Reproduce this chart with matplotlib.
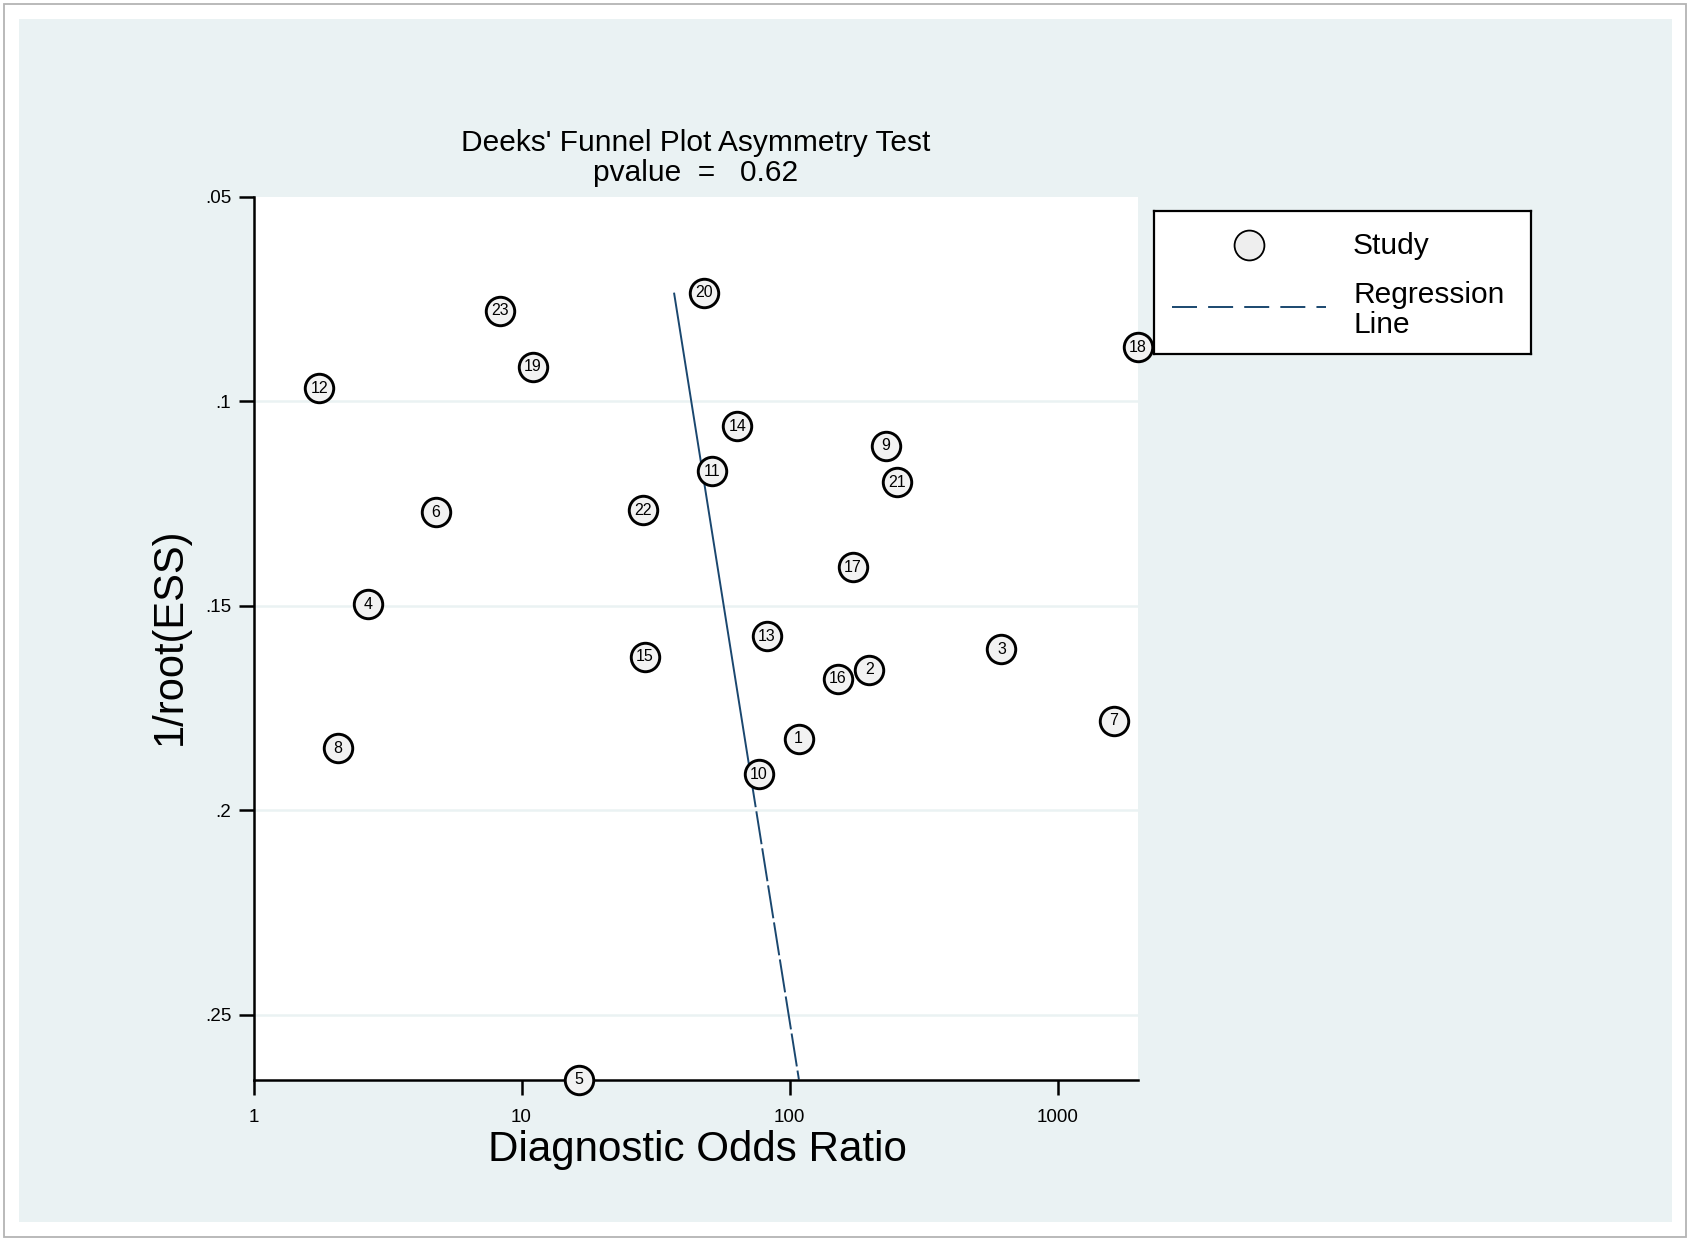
import matplotlib
matplotlib.use('Agg')
import matplotlib.pyplot as plt
from matplotlib.patches import Rectangle
from matplotlib.lines import Line2D
import numpy as np

plt.rcParams['font.family'] = ['Liberation Sans', 'DejaVu Sans']
plt.rcParams['lines.scale_dashes'] = False

# ---------------- data ----------------
study = [str(i) for i in range(1, 24)]
dor = [108, 198, 617, 2.67, 16.4, 4.78, 1617, 2.06, 229, 76.9, 51.2, 1.76,
       82.0, 63.9, 28.8, 151, 172, 1985, 11.0, 47.9, 251, 28.5, 8.33]
inv_root_ess = [0.1825, 0.1657, 0.1607, 0.1496, 0.2658, 0.1272, 0.1781, 0.1849,
                0.1109, 0.1912, 0.1172, 0.0969, 0.1575, 0.1061, 0.1625, 0.1678,
                0.1406, 0.0869, 0.0916, 0.0735, 0.1198, 0.1267, 0.0779]
reg_intercept = 1.3907   # log10(DOR) at 1/root(ESS) = 0
reg_slope = 2.4226       # change in log10(DOR) per unit 1/root(ESS)
y_ticks = [0.05, 0.10, 0.15, 0.20, 0.25]
y_tick_labels = ['.05', '.1', '.15', '.2', '.25']
x_ticks = [1, 10, 100, 1000]
x_tick_labels = ['1', '10', '100', '1000']
title_lines = ["Deeks' Funnel Plot Asymmetry Test", "pvalue  =   0.62"]
x_label = "Diagnostic Odds Ratio"
y_label = "1/root(ESS)"
legend_labels = ["Study", "Regression\nLine"]

# ---------------- figure ----------------
W, H = 1691, 1242
fig = plt.figure(figsize=(W / 100, H / 100), dpi=100)
fig.patch.set_facecolor('white')

BG = '#EAF2F3'
NAVY = '#1A476F'

def px2fig(x0, y0, x1, y1):
    return [x0 / W, 1 - y1 / H, (x1 - x0) / W, (y1 - y0) / H]

# outer border and background panel
fig.add_artist(Rectangle((4 / W, 1 - 1237 / H), (1686 - 4) / W, (1237 - 4) / H,
                         transform=fig.transFigure, facecolor='white',
                         edgecolor='#b4b4b4', linewidth=1.3, zorder=-10))
fig.add_artist(Rectangle((19 / W, 1 - 1222 / H), (1672 - 19) / W, (1222 - 19) / H,
                         transform=fig.transFigure, facecolor=BG,
                         edgecolor='none', zorder=-9))

ax = fig.add_axes(px2fig(253.5, 196.5, 1137.5, 1079.5))
ax.set_facecolor('white')

x = np.array(dor)
y = np.array(inv_root_ess)

ax.set_xscale('log')
ax.set_xlim(1, x.max())
ax.set_ylim(y.max(), 0.05)

# grid
for yt in y_ticks[1:]:
    ax.axhline(yt, color=BG, linewidth=1.8, zorder=1)

# regression line: solid through the dense part, dashed in the long last segment
ys = np.sort(y)
y_break = ys[-2]
yy1 = np.array([ys[0], y_break])
yy2 = np.array([y_break, ys[-1]])
ax.plot(10 ** (reg_intercept + reg_slope * yy1), yy1, color=NAVY, lw=1.4,
        solid_capstyle='butt', zorder=2, clip_on=False)
ax.plot(10 ** (reg_intercept + reg_slope * yy2), yy2, color=NAVY, lw=1.4,
        dashes=(24, 3), dash_capstyle='butt', zorder=2, clip_on=False)

# study markers
ax.plot(x, y, linestyle='none', marker='o', markersize=20.5,
        markerfacecolor='#f2f2f2', markeredgecolor='black', markeredgewidth=2.1,
        zorder=3, clip_on=False)
for xi, yi, s in zip(x, y, study):
    ax.text(xi, yi, s, ha='center', va='center', fontsize=11.5, zorder=4,
            clip_on=False)

# axes styling
for side in ['top', 'right']:
    ax.spines[side].set_visible(False)
for side in ['left', 'bottom']:
    ax.spines[side].set_linewidth(1.8)
    ax.spines[side].set_zorder(2.5)
ax.set_yticks(y_ticks)
ax.set_yticklabels(y_tick_labels)
ax.set_xticks(x_ticks)
ax.set_xticklabels(x_tick_labels)
ax.xaxis.set_minor_locator(matplotlib.ticker.NullLocator())
ax.tick_params(axis='both', which='major', direction='out', length=11,
               width=1.8, labelsize=13.6, color='black')
ax.tick_params(axis='y', pad=5)
ax.tick_params(axis='x', pad=10.5)

# labels
fig.text(697 / W, 1 - 1150 / H, x_label, ha='center', va='center', fontsize=30.3)
fig.text(170 / W, 1 - 636 / H, y_label, ha='center', va='center', fontsize=30,
         rotation=90)
fig.text(695.5 / W, 1 - 143 / H, title_lines[0], ha='center', va='center',
         fontsize=21.5)
fig.text(695.5 / W, 1 - 173 / H, title_lines[1], ha='center', va='center',
         fontsize=21.5)

# legend box
lx0, ly0, lx1, ly1 = 1154, 211, 1531, 354
lax = fig.add_axes(px2fig(lx0, ly0, lx1, ly1))
lax.set_xlim(0, lx1 - lx0)
lax.set_ylim(ly1 - ly0, 0)
lax.set_facecolor('white')
for sp in lax.spines.values():
    sp.set_linewidth(1.6)
    sp.set_color('black')
lax.set_xticks([])
lax.set_yticks([])
lax.add_line(Line2D([95], [34], marker='o', markersize=21.5,
                    markerfacecolor='#eeeeee', markeredgecolor='black',
                    markeredgewidth=1.3, linestyle='none'))
lax.add_line(Line2D([18, 172], [96, 96], color=NAVY, lw=1.4,
                    dashes=(18, 8), dash_capstyle='butt'))
lax.text(199, 35, legend_labels[0], ha='left', va='center', fontsize=21.5)
lax.text(199, 99, legend_labels[1], ha='left', va='center', fontsize=21.5,
         linespacing=1.08)

fig.savefig('out.png', dpi=100, facecolor='white')
